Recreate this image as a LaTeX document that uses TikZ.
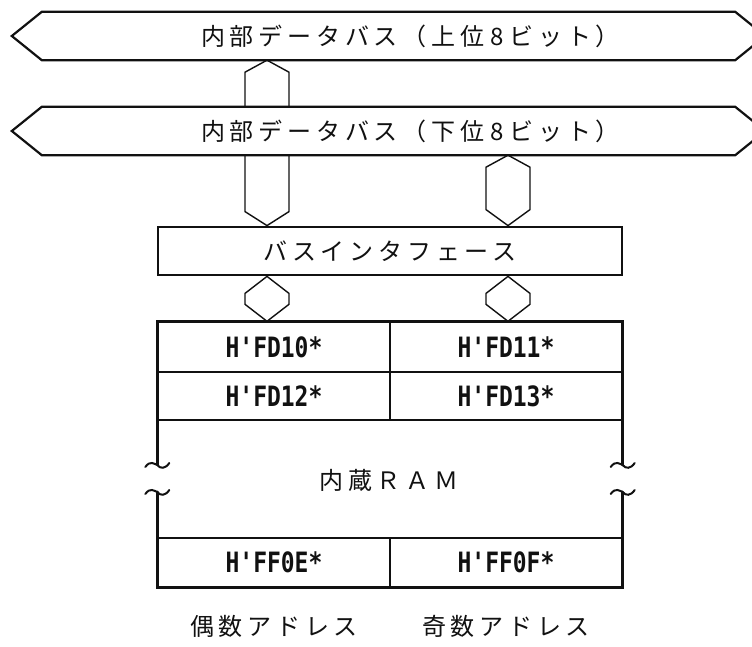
\documentclass[tikz,border=0pt]{standalone}
\usepackage{fontspec}
\usepackage{xcolor}
\usepackage{tikz}
\usetikzlibrary{calc,positioning}
\newfontfamily\jpfont{Noto Sans CJK JP}[LetterSpace=20]
\newfontfamily\addrfont{DejaVu Sans Mono}[FakeStretch=0.82]
\definecolor{Ink}{HTML}{111111}
\tikzset{
  busline/.style={draw=Ink, line width=2.2pt, line join=miter},
  stub/.style={draw=Ink, line width=1.4pt, line join=miter},
  frame/.style={draw=Ink, line width=2.8pt, line cap=round},
  jptext/.style={text=Ink, inner sep=0pt, font=\jpfont\fontsize{24}{26}\selectfont},
  cell/.style={draw=Ink, line width=1.4pt, minimum width=232pt, inner sep=0pt, text=Ink, font=\addrfont\bfseries\fontsize{28}{30}\selectfont},
}
% hexagonal bus link: top point, bottom point, depth of top tip, depth of bottom tip
\newcommand{\hexlink}[4]{%
  \draw[stub] ($#1+(-22,#3)$) -- #1 -- ($#1+(22,#3)$) -- ($#2+(22,-#4)$) -- #2 -- ($#2+(-22,-#4)$) -- cycle;}
\newcommand{\busoutline}[1]{%
  \draw[busline] (#1.north west) -- (#1.north east) -- ($(#1.east)+(30,0)$) -- (#1.south east)
    -- (#1.south west) -- ($(#1.west)+(-30,0)$) -- cycle;}
\newcommand{\breakwave}[1]{%
  \draw[frame, line width=2pt] ($#1+(-12,2)$) .. controls ($#1+(-7,-5)$) and ($#1+(-3,-1)$) .. #1
    .. controls ($#1+(3,4)$) and ($#1+(8,4)$) .. ($#1+(12,-2)$);}
\newcommand{\gap}{\kern6pt}

\begin{document}
\begin{tikzpicture}[x=1pt, y=-1pt]
  \fill[white] (0,0) rectangle (752,647);
  \useasboundingbox (0,0) rectangle (752,647);
  \coordinate (xl) at (267,0);
  \coordinate (xr) at (508,0);
  \coordinate (brkhi) at (0,465);
  \coordinate (brklo) at (0,492);

  % internal buses
  \node[minimum width=693pt, minimum height=48pt, inner sep=0pt] (ubus) at (388.5,36) {};
  \node[minimum width=693pt, minimum height=48pt, inner sep=0pt] (lbus) at (388.5,131) {};
  \busoutline{ubus}
  \busoutline{lbus}
  \node[jptext] (utext) at ($(ubus.center)+(22,0)$) {内部データバス（上位\gap 8\gap ビット）};
  \node[jptext] (ltext) at ($(lbus.center)+(22,0)$) {内部データバス（下位\gap 8\gap ビット）};

  \node[jptext, draw=Ink, line width=2.8pt, minimum width=464pt, minimum height=48pt] (bif) at (390,251) {バスインタフェース};

  % RAM cells
  \node[cell, minimum height=50pt] (c10) at (274,347) {H'FD10*};
  \node[cell, minimum height=50pt] (c11) at (506,347) {H'FD11*};
  \node[cell, minimum height=48pt] (c12) at (274,396) {H'FD12*};
  \node[cell, minimum height=48pt] (c13) at (506,396) {H'FD13*};
  \node[cell, minimum height=49pt] (c0e) at (274,562.5) {H'FF0E*};
  \node[cell, minimum height=49pt] (c0f) at (506,562.5) {H'FF0F*};
  \node[jptext] (ram) at (389,480) {内蔵ＲＡＭ};

  \draw[frame] (c10.north west |- brkhi) -- (c10.north west) -- (c11.north east) -- (c11.north east |- brkhi);
  \draw[frame] (c0e.south west |- brklo) -- (c0e.south west) -- (c0f.south east) -- (c0f.south east |- brklo);
  \breakwave{(c10.west |- brkhi)}
  \breakwave{(c10.west |- brklo)}
  \breakwave{(c11.east |- brkhi)}
  \breakwave{(c11.east |- brklo)}

  % bus links
  \hexlink{(xl |- ubus.south)}{(xl |- lbus.north)}{12}{0}
  \hexlink{(xl |- lbus.south)}{(xl |- bif.north)}{0}{14}
  \hexlink{(xr |- lbus.south)}{(xr |- bif.north)}{12}{16}
  \hexlink{(xl |- bif.south)}{(xl |- c10.north)}{17}{17}
  \hexlink{(xr |- bif.south)}{(xr |- c11.north)}{17}{17}

  \node[jptext, below=27pt of c0e] (even) {偶数アドレス};
  \node[jptext, below=27pt of c0f] (odd) {奇数アドレス};
\end{tikzpicture}
\end{document}
